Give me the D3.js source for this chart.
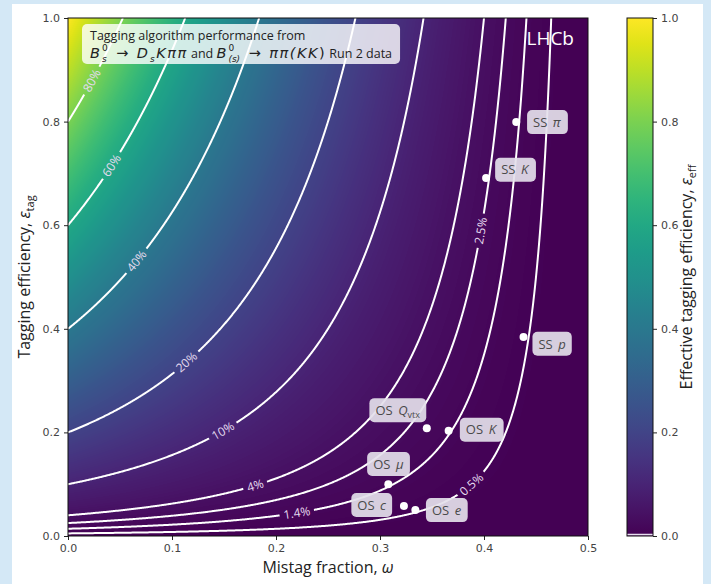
<!DOCTYPE html>
<html>
<head>
<meta charset="utf-8">
<script src="https://cdn.jsdelivr.net/npm/d3@7"></script>
<style>
  body { margin: 0; background: #d4e8f6; }
  svg { display: block; }
</style>
</head>
<body>
<div id="vis"></div>
<script>
// contour levels of the effective tagging efficiency
const levels = [0.005, 0.014, 0.025, 0.04, 0.10, 0.20, 0.40, 0.60, 0.80];
const levelLabels = ["0.5%", "1.4%", "2.5%", "4%", "10%", "20%", "40%", "60%", "80%"];
const labelOmega = [0.388, 0.22, 0.397, 0.18, 0.149, 0.114, 0.066, 0.042, 0.023];

// tagger performance points
const taggerSide = ["SS", "SS", "SS", "OS", "OS", "OS", "OS", "OS"];
const taggerSym = ["π", "K", "p", "Q", "K", "μ", "c", "e"];
const taggerSub = ["", "", "", "vtx", "", "", "", ""];
const taggerOmega = [0.431, 0.402, 0.438, 0.345, 0.366, 0.308, 0.323, 0.334];
const taggerEff = [0.799, 0.691, 0.384, 0.208, 0.203, 0.100, 0.058, 0.050];
// where the name boxes sit (data coords)
const boxOmega = [0.4605, 0.4295, 0.4655, 0.317, 0.397, 0.308, 0.292, 0.364];
const boxEff = [0.799, 0.707, 0.371, 0.243, 0.205, 0.139, 0.060, 0.050];

const xTicks = [0, 0.1, 0.2, 0.3, 0.4, 0.5];
const yTicks = [0, 0.2, 0.4, 0.6, 0.8, 1.0];

const W = 711, H = 584;
const svg = d3.select("#vis").append("svg").attr("width", W).attr("height", H);
svg.append("rect").attr("x", 12).attr("y", 4).attr("width", 691).attr("height", 580).attr("fill", "#ffffff");

const x = d3.scaleLinear().domain([0, 0.5]).range([68, 588]);
const y = d3.scaleLinear().domain([0, 1]).range([536, 18]);
const effOf = (w, e) => e * (1 - 2 * w) * (1 - 2 * w);

// heat map
const pw = 520, ph = 518;
const canvas = document.createElement("canvas");
canvas.width = pw; canvas.height = ph;
const ctx = canvas.getContext("2d");
const img = ctx.createImageData(pw, ph);
for (let j = 0; j < ph; j++) {
  for (let i = 0; i < pw; i++) {
    const c = d3.rgb(d3.interpolateViridis(effOf(x.invert(68 + i + 0.5), y.invert(18 + j + 0.5))));
    const k = (j * pw + i) * 4;
    img.data[k] = c.r; img.data[k + 1] = c.g; img.data[k + 2] = c.b; img.data[k + 3] = 255;
  }
}
ctx.putImageData(img, 0, 0);
svg.append("image").attr("x", 68).attr("y", 18).attr("width", pw).attr("height", ph)
  .attr("preserveAspectRatio", "none").attr("href", canvas.toDataURL());

svg.append("clipPath").attr("id", "plotclip").append("rect")
  .attr("x", 68).attr("y", 18).attr("width", 520).attr("height", 518);

// contour curves
function contourPts(L) {
  const pts = [];
  const n = 700;
  for (let i = 0; i <= n; i++) {
    const e = Math.exp(Math.log(L) + (Math.log(1) - Math.log(L)) * i / n);
    pts.push([(1 - Math.sqrt(L / e)) / 2, e]);
  }
  return pts;
}

const labelInfo = levels.map((L, i) => {
  const w = labelOmega[i];
  const px = x(w), py = y(L / Math.pow(1 - 2 * w, 2));
  const dw = 0.0005;
  const qx = x(w + dw), qy = y(L / Math.pow(1 - 2 * (w + dw), 2));
  const ang = Math.atan2(qy - py, qx - px) * 180 / Math.PI;
  return { px, py, ang, text: levelLabels[i] };
});

const mask = svg.append("mask").attr("id", "gapmask").attr("maskUnits", "userSpaceOnUse")
  .attr("x", 0).attr("y", 0).attr("width", W).attr("height", H);
mask.append("rect").attr("x", 0).attr("y", 0).attr("width", W).attr("height", H).attr("fill", "white");

const line = d3.line().x(d => x(d[0])).y(d => y(d[1]));
svg.append("g").attr("clip-path", "url(#plotclip)")
  .append("g").attr("mask", "url(#gapmask)")
  .selectAll("path").data(levels).enter().append("path")
  .attr("d", L => line(contourPts(L)))
  .attr("fill", "none").attr("stroke", "#ffffff").attr("stroke-width", 2);

const lbl = svg.append("g").selectAll("text").data(labelInfo).enter().append("text")
  .attr("transform", d => `translate(${d.px},${d.py}) rotate(${d.ang})`)
  .attr("text-anchor", "middle").attr("dy", "0.35em")
  .attr("font-family", "Open Sans, sans-serif").attr("font-size", 12)
  .attr("fill", "#e6dcf0").text(d => d.text);
lbl.each(function (d) {
  const wdt = this.getComputedTextLength() + 8;
  mask.append("rect").attr("x", -wdt / 2).attr("y", -8).attr("width", wdt).attr("height", 16)
    .attr("fill", "black").attr("transform", `translate(${d.px},${d.py}) rotate(${d.ang})`);
});

// tagger points
const pts = svg.append("g");
taggerOmega.forEach((w, i) => {
  pts.append("circle").attr("cx", x(w)).attr("cy", y(taggerEff[i])).attr("r", 4).attr("fill", "#ffffff");
});
taggerOmega.forEach((w, i) => {
  const g = pts.append("g").attr("transform", `translate(${x(boxOmega[i])},${y(boxEff[i])})`);
  const bg = g.append("rect").attr("fill", "#e4dfea").attr("fill-opacity", 0.92).attr("rx", 5);
  const t = g.append("text").attr("text-anchor", "middle").attr("dy", "0.36em")
    .attr("font-family", "Open Sans, sans-serif").attr("font-size", 13).attr("fill", "#4a4a4a");
  t.append("tspan").text(taggerSide[i] + "\u2009 ");
  t.append("tspan").attr("font-style", "italic").text(taggerSym[i]);
  if (taggerSub[i]) {
    t.append("tspan").attr("font-size", 9).attr("dy", "0.3em").text(taggerSub[i]);
  }
  const bb = t.node().getBBox();
  bg.attr("x", bb.x - 6).attr("y", -12).attr("width", bb.width + 12).attr("height", 24);
});

// title box
const tg = svg.append("g");
const tbg = tg.append("rect").attr("x", 82).attr("y", 24).attr("width", 314).attr("height", 40)
  .attr("rx", 5).attr("fill", "#ffffff").attr("fill-opacity", 0.8);
const sans = "Open Sans, sans-serif", math = "DejaVu Sans, sans-serif";
const t1 = tg.append("text").attr("x", 90).attr("y", 40)
  .attr("font-family", sans).attr("font-size", 12.5).attr("fill", "#222")
  .text("Tagging algorithm performance from");

// second line, piece by piece so scripts can stack
const line2 = [
  { t: "B", it: true }, { sup: "0", sub: "s" },
  { t: "\u2192", pad: 7 }, { t: "D", it: true }, { sub: "s" }, { t: "K\u03c0\u03c0", it: true },
  { t: " and ", txt: true }, { t: "B", it: true }, { sup: "0", sub: "(s)" },
  { t: "\u2192", pad: 7 }, { t: "\u03c0\u03c0(", it: true }, { t: "KK", it: true }, { t: ")", it: false },
  { t: " Run 2 data", txt: true }
];
let cx = 90;
const by = 58;
line2.forEach(p => {
  if (p.t !== undefined) {
    cx += p.pad || 0;
    const ls = p.txt ? 0 : 1.5;
    const el = tg.append("text").attr("x", cx).attr("y", by).attr("fill", "#222")
      .attr("font-family", p.txt ? sans : math).attr("font-size", p.txt ? 12.5 : 14.5)
      .attr("letter-spacing", ls)
      .attr("font-style", p.it ? "italic" : "normal").attr("xml:space", "preserve").text(p.t);
    cx += el.node().getComputedTextLength() + (p.pad || 0);
  } else {
    let adv = 0;
    if (p.sup) {
      const s = tg.append("text").attr("x", cx + 0.5).attr("y", by - 7).attr("fill", "#222")
        .attr("font-family", math).attr("font-size", 9).text(p.sup);
      adv = Math.max(adv, s.node().getComputedTextLength());
    }
    if (p.sub) {
      const s = tg.append("text").attr("x", cx + 0.5).attr("y", by + 4).attr("fill", "#222")
        .attr("font-family", math).attr("font-size", 9).attr("font-style", "italic").text(p.sub);
      adv = Math.max(adv, s.node().getComputedTextLength());
    }
    cx += adv + 2;
  }
});
tbg.attr("width", Math.max(t1.node().getComputedTextLength() + 90, cx) - 82 + 8);

svg.append("text").attr("x", 574).attr("y", 45).attr("text-anchor", "end")
  .attr("font-family", "Open Sans, sans-serif").attr("font-size", 19).attr("fill", "#ffffff").text("LHCb");

// axes
const fmt = d3.format(".1f");
const xAxis = svg.append("g").attr("transform", "translate(0,536)")
  .call(d3.axisBottom(x).tickValues(xTicks).tickFormat(fmt).tickSize(4).tickPadding(4));
const yAxis = svg.append("g").attr("transform", "translate(68,0)")
  .call(d3.axisLeft(y).tickValues(yTicks).tickFormat(fmt).tickSize(4).tickPadding(4));
[xAxis, yAxis].forEach(a => {
  a.select(".domain").remove();
  a.selectAll("text").attr("font-family", "DejaVu Sans, sans-serif").attr("font-size", 11).attr("fill", "#444");
  a.selectAll("line").attr("stroke", "#222");
});
svg.append("rect").attr("x", 68).attr("y", 18).attr("width", 520).attr("height", 518)
  .attr("fill", "none").attr("stroke", "#111").attr("stroke-width", 1);

const xl = svg.append("text").attr("x", 328).attr("y", 573).attr("text-anchor", "middle")
  .attr("font-family", "Open Sans, sans-serif").attr("font-size", 16).attr("fill", "#222");
xl.append("tspan").text("Mistag fraction, ");
xl.append("tspan").attr("font-style", "italic").text("\u03c9");

const yl = svg.append("text").attr("transform", "translate(30,277) rotate(-90)").attr("text-anchor", "middle")
  .attr("font-family", "Open Sans, sans-serif").attr("font-size", 16).attr("fill", "#222");
yl.append("tspan").text("Tagging efficiency, ");
yl.append("tspan").attr("font-style", "italic").text("\u03b5");
yl.append("tspan").attr("font-size", 11).attr("dy", 4).text("tag");

// colour bar
const cy = d3.scaleLinear().domain([0, 1]).range([536, 18]);
const grad = svg.append("defs").append("linearGradient").attr("id", "vir")
  .attr("x1", 0).attr("y1", 1).attr("x2", 0).attr("y2", 0);
d3.range(0, 1.0001, 0.05).forEach(v => {
  grad.append("stop").attr("offset", v).attr("stop-color", d3.interpolateViridis(v));
});
svg.append("rect").attr("x", 627).attr("y", 18).attr("width", 26).attr("height", 518)
  .attr("fill", "url(#vir)").attr("stroke", "#111").attr("stroke-width", 1);
svg.append("line").attr("x1", 627.5).attr("x2", 652.5).attr("y1", 534.5).attr("y2", 534.5)
  .attr("stroke", "#e8e0f0").attr("stroke-width", 1.5);
const cAxis = svg.append("g").attr("transform", "translate(653,0)")
  .call(d3.axisRight(cy).tickValues(yTicks).tickFormat(fmt).tickSize(4).tickPadding(4));
cAxis.select(".domain").remove();
cAxis.selectAll("text").attr("font-family", "DejaVu Sans, sans-serif").attr("font-size", 11).attr("fill", "#444");
cAxis.selectAll("line").attr("stroke", "#222");

const cl = svg.append("text").attr("transform", "translate(692,277) rotate(-90)").attr("text-anchor", "middle")
  .attr("font-family", "Open Sans, sans-serif").attr("font-size", 16).attr("fill", "#222");
cl.append("tspan").text("Effective tagging efficiency, ");
cl.append("tspan").attr("font-style", "italic").text("\u03b5");
cl.append("tspan").attr("font-size", 11).attr("dy", 4).text("eff");
</script>
</body>
</html>
